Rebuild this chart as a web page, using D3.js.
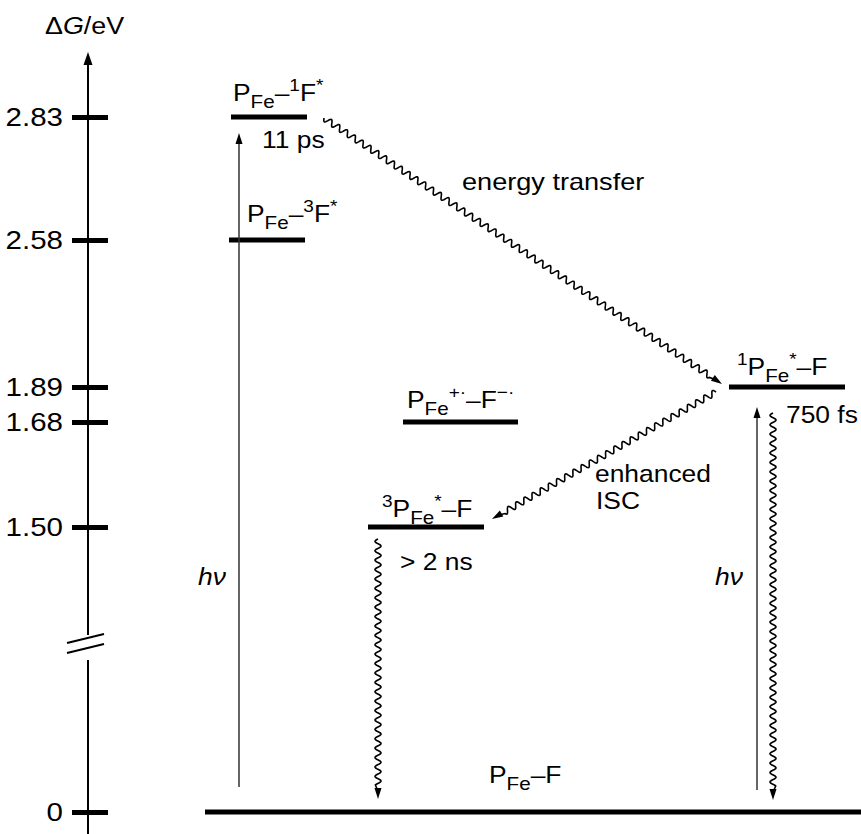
<!DOCTYPE html>
<html>
<head>
<meta charset="utf-8">
<script src="https://cdn.jsdelivr.net/npm/d3@7"></script>
<style>
  body { margin: 0; background: #fff; }
  text { font-family: "Liberation Sans", Arial, Helvetica, sans-serif; fill: #000; }
</style>
</head>
<body>
<script>
// energy axis (the figure is schematic, not to scale)
const tickValues = [0, 1.50, 1.68, 1.89, 2.58, 2.83];
const tickLabels = ["0", "1.50", "1.68", "1.89", "2.58", "2.83"];
const tickPixels = [812, 527, 422, 387, 240, 117];

// states: energy and label pieces (sub/sup marks)
const stateEnergies = [2.83, 2.58, 1.89, 1.68, 1.50, 0];
const stateLabels = [
  [["P"], ["Fe", "sub"], ["–"], ["1", "sup"], ["F"], ["*", "sup"]],
  [["P"], ["Fe", "sub"], ["–"], ["3", "sup"], ["F"], ["*", "sup"]],
  [["1", "sup"], ["P"], ["Fe", "sub"], ["*", "sup"], ["–F"]],
  [["P"], ["Fe", "sub"], ["+·", "sup"], ["–F"], ["−·", "sup"]],
  [["3", "sup"], ["P"], ["Fe", "sub"], ["*", "sup"], ["–F"]],
  [["P"], ["Fe", "sub"], ["–F"]]
];
const lifetimes = ["11 ps", null, "750 fs", null, "> 2 ns", null];

// transitions: from state energy -> to state energy, kind
const transFrom = [0, 2.83, 1.89, 0, 1.89, 1.50];
const transTo   = [2.83, 1.89, 1.50, 1.89, 0, 0];
const transKind = ["light", "wave", "wave", "light", "wave", "wave"];

const W = 861, H = 834;
const svg = d3.select("body").append("svg").attr("width", W).attr("height", H);

const y = d3.scaleLinear().domain(tickValues).range(tickPixels);

// layout of the drawing
const axisX = 88;
const fs = 24, sx = 1.1;
const levelX = [[231, 307], [229, 305], [729, 845], [403, 518], [368, 484], [205, 861]];
const labelPos = [[233, 101], [247, 222], [737, 375], [407, 408], [382, 517], [489, 783]];
const lifePos = [[262, 148], null, [786, 423], null, [400, 570], null];
const transGeom = [
  { x0: 239, x1: 239, d0: -25, d1: 16 },
  { x0: 324, x1: 722, d0: 1, d1: -3 },
  { x0: 716, x1: 492, d0: 5, d1: -8 },
  { x0: 757, x1: 757, d0: -22, d1: 20 },
  { x0: 773, x1: 773, d0: 26, d1: -12 },
  { x0: 378, x1: 378, d0: 12, d1: -13 }
];

function placeText(g, x, yy, size, stretch) {
  return g.append("text").attr("transform", `translate(${x},${yy}) scale(${stretch},1)`)
    .attr("font-size", size);
}

function richText(g, parts, x, yy, size) {
  const t = placeText(g, x, yy, size, sx);
  let shift = 0;
  parts.forEach(p => {
    const target = p[1] === "sub" ? size * 0.3 : p[1] === "sup" ? -size * 0.4 : 0;
    t.append("tspan")
      .attr("dy", target - shift)
      .attr("font-size", p[1] === "sub" ? size * 0.78 : p[1] ? size * 0.72 : size)
      .text(p[0]);
    shift = target;
  });
  return t;
}

function arrowHead(g, tip, dir, len, half, color) {
  const [ux, uy] = dir;
  const bx = tip[0] - ux * len, by = tip[1] - uy * len;
  g.append("path")
    .attr("d", `M${tip[0]},${tip[1]}L${bx - uy * half},${by + ux * half}L${bx + uy * half},${by - ux * half}Z`)
    .attr("fill", color);
}

// axis
const axisG = svg.append("g").attr("transform", `translate(${axisX},0)`);
axisG.call(d3.axisLeft(y).tickValues(tickValues)
  .tickFormat((d, i) => tickLabels[i]).tickSize(0).tickPadding(25));
axisG.select(".domain").remove();
axisG.selectAll(".tick line").attr("x1", -16).attr("x2", 20)
  .attr("stroke", "#000").attr("stroke-width", 5);
axisG.selectAll(".tick text").attr("font-size", 25).attr("x", 0).attr("dy", "0.34em")
  .attr("transform", "translate(-25,0) scale(1.18,1)")
  .attr("font-family", '"Liberation Sans", Arial, sans-serif').attr("fill", "#000");

// axis line with break
const axisLines = svg.append("g").attr("stroke", "#000").attr("stroke-width", 2);
axisLines.append("line").attr("x1", axisX).attr("x2", axisX).attr("y1", H).attr("y2", 660);
axisLines.append("line").attr("x1", axisX).attr("x2", axisX).attr("y1", 635).attr("y2", 62);
arrowHead(svg, [axisX, 52], [0, -1], 13, 4.5, "#000");
axisLines.append("line").attr("x1", 67).attr("y1", 643).attr("x2", 104).attr("y2", 634);
axisLines.append("line").attr("x1", 67).attr("y1", 653).attr("x2", 104).attr("y2", 644);

const title = placeText(svg, 45, 34, fs, 1.12);
title.append("tspan").text("Δ");
title.append("tspan").attr("font-style", "italic").text("G");
title.append("tspan").text("/eV");

// levels
svg.append("g").selectAll("line").data(stateEnergies).join("line")
  .attr("x1", (d, i) => levelX[i][0]).attr("x2", (d, i) => levelX[i][1])
  .attr("y1", d => y(d)).attr("y2", d => y(d))
  .attr("stroke", "#000").attr("stroke-width", 5);

const labelG = svg.append("g");
stateLabels.forEach((parts, i) => richText(labelG, parts, labelPos[i][0], labelPos[i][1], fs));
lifetimes.forEach((t, i) => {
  if (!t) return;
  placeText(labelG, lifePos[i][0], lifePos[i][1], fs, sx).text(t);
});

// transitions
const transG = svg.append("g");
transFrom.forEach((e0, i) => {
  const g = transGeom[i];
  const p0 = [g.x0, y(e0) + g.d0];
  const p1 = [g.x1, y(transTo[i]) + g.d1];
  const dx = p1[0] - p0[0], dy = p1[1] - p0[1];
  const L = Math.hypot(dx, dy);
  const u = [dx / L, dy / L];
  if (transKind[i] === "light") {
    transG.append("line")
      .attr("x1", p0[0]).attr("y1", p0[1])
      .attr("x2", p1[0] - u[0] * 8).attr("y2", p1[1] - u[1] * 8)
      .attr("stroke", "#333").attr("stroke-width", 1.5);
    arrowHead(transG, p1, u, 11, 3.5, "#000");
  } else {
    const n = [-u[1], u[0]];
    const waveLen = L - 14;
    const pts = d3.range(0, waveLen + 0.01, 0.5).map(t => {
      const a = 3 * Math.sin(2 * Math.PI * t / 9.4);
      return [p0[0] + u[0] * t + n[0] * a, p0[1] + u[1] * t + n[1] * a];
    });
    pts.push([p1[0] - u[0] * 8, p1[1] - u[1] * 8]);
    transG.append("path").attr("d", d3.line()(pts))
      .attr("fill", "none").attr("stroke", "#000").attr("stroke-width", 1.6);
    arrowHead(transG, p1, u, 11, 3.5, "#000");
  }
});

// other annotations
const ann = svg.append("g");
placeText(ann, 462, 190, fs, 1.13).text("energy transfer");
placeText(ann, 595, 482, fs, sx).text("enhanced");
placeText(ann, 596, 509, fs, sx).text("ISC");
[[198, 585], [715, 585]].forEach(p => {
  placeText(ann, p[0], p[1], fs, sx).attr("font-style", "italic").text("hν");
});
</script>
</body>
</html>
